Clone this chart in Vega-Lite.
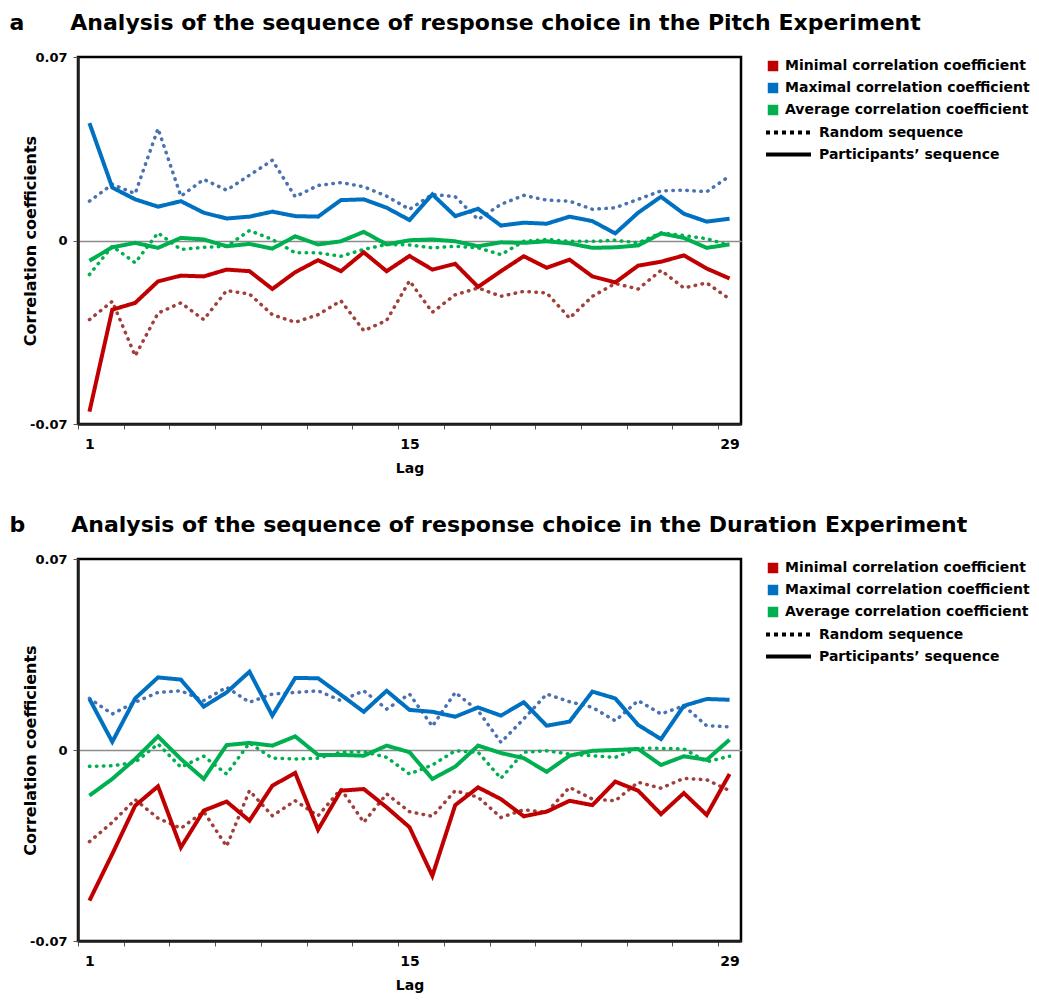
{
  "$schema": "https://vega.github.io/schema/vega-lite/v6.json",
  "background": "white",
  "padding": {"left": 8, "top": 10, "right": 4, "bottom": 4},
  "config": {
    "font": "DejaVu Sans",
    "view": {"stroke": "black", "strokeWidth": 2.5},
    "axis": {
      "domainColor": "#222",
      "domainWidth": 2.5,
      "tickColor": "#555",
      "tickWidth": 1,
      "tickSize": 5,
      "labelFont": "DejaVu Sans",
      "labelFontWeight": "bold",
      "labelFontSize": 14,
      "labelColor": "black",
      "titleFont": "DejaVu Sans",
      "titleFontWeight": "bold",
      "titleFontSize": 14,
      "titleColor": "black"
    },
    "legend": {
      "labelFont": "DejaVu Sans",
      "labelFontWeight": "bold",
      "labelFontSize": 14,
      "labelColor": "black",
      "labelLimit": 400,
      "orient": "right",
      "offset": 23,
      "rowPadding": 6,
      "padding": 0
    },
    "title": {
      "font": "DejaVu Sans",
      "fontWeight": "bold",
      "fontSize": 22,
      "color": "black",
      "anchor": "start",
      "frame": "bounds",
      "offset": 16
    }
  },
  "datasets": {
    "pitch": [
      {"lag":1,"stat":"min","seq":"part","r":-0.0653},{"lag":2,"stat":"min","seq":"part","r":-0.0264},{"lag":3,"stat":"min","seq":"part","r":-0.0238},{"lag":4,"stat":"min","seq":"part","r":-0.0156},{"lag":5,"stat":"min","seq":"part","r":-0.0134},{"lag":6,"stat":"min","seq":"part","r":-0.0137},{"lag":7,"stat":"min","seq":"part","r":-0.0111},{"lag":8,"stat":"min","seq":"part","r":-0.0117},{"lag":9,"stat":"min","seq":"part","r":-0.0185},{"lag":10,"stat":"min","seq":"part","r":-0.0121},{"lag":11,"stat":"min","seq":"part","r":-0.0075},{"lag":12,"stat":"min","seq":"part","r":-0.0117},{"lag":13,"stat":"min","seq":"part","r":-0.0045},{"lag":14,"stat":"min","seq":"part","r":-0.0117},{"lag":15,"stat":"min","seq":"part","r":-0.0059},{"lag":16,"stat":"min","seq":"part","r":-0.0111},{"lag":17,"stat":"min","seq":"part","r":-0.0089},{"lag":18,"stat":"min","seq":"part","r":-0.0177},{"lag":19,"stat":"min","seq":"part","r":-0.0117},{"lag":20,"stat":"min","seq":"part","r":-0.0060},{"lag":21,"stat":"min","seq":"part","r":-0.0104},{"lag":22,"stat":"min","seq":"part","r":-0.0073},{"lag":23,"stat":"min","seq":"part","r":-0.0137},{"lag":24,"stat":"min","seq":"part","r":-0.0160},{"lag":25,"stat":"min","seq":"part","r":-0.0096},{"lag":26,"stat":"min","seq":"part","r":-0.0081},{"lag":27,"stat":"min","seq":"part","r":-0.0057},{"lag":28,"stat":"min","seq":"part","r":-0.0107},{"lag":29,"stat":"min","seq":"part","r":-0.0145},
      {"lag":1,"stat":"max","seq":"part","r":0.0448},{"lag":2,"stat":"max","seq":"part","r":0.0202},{"lag":3,"stat":"max","seq":"part","r":0.0157},{"lag":4,"stat":"max","seq":"part","r":0.0129},{"lag":5,"stat":"max","seq":"part","r":0.0150},{"lag":6,"stat":"max","seq":"part","r":0.0106},{"lag":7,"stat":"max","seq":"part","r":0.0084},{"lag":8,"stat":"max","seq":"part","r":0.0091},{"lag":9,"stat":"max","seq":"part","r":0.0110},{"lag":10,"stat":"max","seq":"part","r":0.0093},{"lag":11,"stat":"max","seq":"part","r":0.0091},{"lag":12,"stat":"max","seq":"part","r":0.0154},{"lag":13,"stat":"max","seq":"part","r":0.0157},{"lag":14,"stat":"max","seq":"part","r":0.0125},{"lag":15,"stat":"max","seq":"part","r":0.0078},{"lag":16,"stat":"max","seq":"part","r":0.0176},{"lag":17,"stat":"max","seq":"part","r":0.0093},{"lag":18,"stat":"max","seq":"part","r":0.0121},{"lag":19,"stat":"max","seq":"part","r":0.0057},{"lag":20,"stat":"max","seq":"part","r":0.0068},{"lag":21,"stat":"max","seq":"part","r":0.0064},{"lag":22,"stat":"max","seq":"part","r":0.0091},{"lag":23,"stat":"max","seq":"part","r":0.0074},{"lag":24,"stat":"max","seq":"part","r":0.0027},{"lag":25,"stat":"max","seq":"part","r":0.0106},{"lag":26,"stat":"max","seq":"part","r":0.0167},{"lag":27,"stat":"max","seq":"part","r":0.0102},{"lag":28,"stat":"max","seq":"part","r":0.0072},{"lag":29,"stat":"max","seq":"part","r":0.0083},
      {"lag":1,"stat":"avg","seq":"part","r":-0.0077},{"lag":2,"stat":"avg","seq":"part","r":-0.0026},{"lag":3,"stat":"avg","seq":"part","r":-0.0009},{"lag":4,"stat":"avg","seq":"part","r":-0.0028},{"lag":5,"stat":"avg","seq":"part","r":0.0010},{"lag":6,"stat":"avg","seq":"part","r":0.0004},{"lag":7,"stat":"avg","seq":"part","r":-0.0022},{"lag":8,"stat":"avg","seq":"part","r":-0.0013},{"lag":9,"stat":"avg","seq":"part","r":-0.0031},{"lag":10,"stat":"avg","seq":"part","r":0.0016},{"lag":11,"stat":"avg","seq":"part","r":-0.0015},{"lag":12,"stat":"avg","seq":"part","r":-0.0003},{"lag":13,"stat":"avg","seq":"part","r":0.0033},{"lag":14,"stat":"avg","seq":"part","r":-0.0015},{"lag":15,"stat":"avg","seq":"part","r":0.0001},{"lag":16,"stat":"avg","seq":"part","r":0.0004},{"lag":17,"stat":"avg","seq":"part","r":-0.0003},{"lag":18,"stat":"avg","seq":"part","r":-0.0022},{"lag":19,"stat":"avg","seq":"part","r":-0.0007},{"lag":20,"stat":"avg","seq":"part","r":-0.0009},{"lag":21,"stat":"avg","seq":"part","r":-0.0003},{"lag":22,"stat":"avg","seq":"part","r":-0.0011},{"lag":23,"stat":"avg","seq":"part","r":-0.0028},{"lag":24,"stat":"avg","seq":"part","r":-0.0026},{"lag":25,"stat":"avg","seq":"part","r":-0.0019},{"lag":26,"stat":"avg","seq":"part","r":0.0027},{"lag":27,"stat":"avg","seq":"part","r":0.0010},{"lag":28,"stat":"avg","seq":"part","r":-0.0028},{"lag":29,"stat":"avg","seq":"part","r":-0.0015},
      {"lag":1,"stat":"min","seq":"rand","r":-0.0302},{"lag":2,"stat":"min","seq":"rand","r":-0.0232},{"lag":3,"stat":"min","seq":"rand","r":-0.0440},{"lag":4,"stat":"min","seq":"rand","r":-0.0277},{"lag":5,"stat":"min","seq":"rand","r":-0.0238},{"lag":6,"stat":"min","seq":"rand","r":-0.0302},{"lag":7,"stat":"min","seq":"rand","r":-0.0191},{"lag":8,"stat":"min","seq":"rand","r":-0.0204},{"lag":9,"stat":"min","seq":"rand","r":-0.0283},{"lag":10,"stat":"min","seq":"rand","r":-0.0312},{"lag":11,"stat":"min","seq":"rand","r":-0.0283},{"lag":12,"stat":"min","seq":"rand","r":-0.0230},{"lag":13,"stat":"min","seq":"rand","r":-0.0344},{"lag":14,"stat":"min","seq":"rand","r":-0.0305},{"lag":15,"stat":"min","seq":"rand","r":-0.0154},{"lag":16,"stat":"min","seq":"rand","r":-0.0274},{"lag":17,"stat":"min","seq":"rand","r":-0.0207},{"lag":18,"stat":"min","seq":"rand","r":-0.0181},{"lag":19,"stat":"min","seq":"rand","r":-0.0213},{"lag":20,"stat":"min","seq":"rand","r":-0.0194},{"lag":21,"stat":"min","seq":"rand","r":-0.0200},{"lag":22,"stat":"min","seq":"rand","r":-0.0296},{"lag":23,"stat":"min","seq":"rand","r":-0.0213},{"lag":24,"stat":"min","seq":"rand","r":-0.0164},{"lag":25,"stat":"min","seq":"rand","r":-0.0185},{"lag":26,"stat":"min","seq":"rand","r":-0.0114},{"lag":27,"stat":"min","seq":"rand","r":-0.0181},{"lag":28,"stat":"min","seq":"rand","r":-0.0162},{"lag":29,"stat":"min","seq":"rand","r":-0.0223},
      {"lag":1,"stat":"max","seq":"rand","r":0.0150},{"lag":2,"stat":"max","seq":"rand","r":0.0214},{"lag":3,"stat":"max","seq":"rand","r":0.0179},{"lag":4,"stat":"max","seq":"rand","r":0.0427},{"lag":5,"stat":"max","seq":"rand","r":0.0169},{"lag":6,"stat":"max","seq":"rand","r":0.0233},{"lag":7,"stat":"max","seq":"rand","r":0.0192},{"lag":8,"stat":"max","seq":"rand","r":0.0249},{"lag":9,"stat":"max","seq":"rand","r":0.0306},{"lag":10,"stat":"max","seq":"rand","r":0.0167},{"lag":11,"stat":"max","seq":"rand","r":0.0210},{"lag":12,"stat":"max","seq":"rand","r":0.0221},{"lag":13,"stat":"max","seq":"rand","r":0.0205},{"lag":14,"stat":"max","seq":"rand","r":0.0169},{"lag":15,"stat":"max","seq":"rand","r":0.0119},{"lag":16,"stat":"max","seq":"rand","r":0.0176},{"lag":17,"stat":"max","seq":"rand","r":0.0167},{"lag":18,"stat":"max","seq":"rand","r":0.0080},{"lag":19,"stat":"max","seq":"rand","r":0.0138},{"lag":20,"stat":"max","seq":"rand","r":0.0172},{"lag":21,"stat":"max","seq":"rand","r":0.0154},{"lag":22,"stat":"max","seq":"rand","r":0.0150},{"lag":23,"stat":"max","seq":"rand","r":0.0119},{"lag":24,"stat":"max","seq":"rand","r":0.0125},{"lag":25,"stat":"max","seq":"rand","r":0.0157},{"lag":26,"stat":"max","seq":"rand","r":0.0189},{"lag":27,"stat":"max","seq":"rand","r":0.0192},{"lag":28,"stat":"max","seq":"rand","r":0.0186},{"lag":29,"stat":"max","seq":"rand","r":0.0246},
      {"lag":1,"stat":"avg","seq":"rand","r":-0.0130},{"lag":2,"stat":"avg","seq":"rand","r":-0.0022},{"lag":3,"stat":"avg","seq":"rand","r":-0.0085},{"lag":4,"stat":"avg","seq":"rand","r":0.0029},{"lag":5,"stat":"avg","seq":"rand","r":-0.0034},{"lag":6,"stat":"avg","seq":"rand","r":-0.0026},{"lag":7,"stat":"avg","seq":"rand","r":-0.0022},{"lag":8,"stat":"avg","seq":"rand","r":0.0038},{"lag":9,"stat":"avg","seq":"rand","r":0.0004},{"lag":10,"stat":"avg","seq":"rand","r":-0.0047},{"lag":11,"stat":"avg","seq":"rand","r":-0.0047},{"lag":12,"stat":"avg","seq":"rand","r":-0.0060},{"lag":13,"stat":"avg","seq":"rand","r":-0.0034},{"lag":14,"stat":"avg","seq":"rand","r":-0.0015},{"lag":15,"stat":"avg","seq":"rand","r":-0.0017},{"lag":16,"stat":"avg","seq":"rand","r":-0.0028},{"lag":17,"stat":"avg","seq":"rand","r":-0.0022},{"lag":18,"stat":"avg","seq":"rand","r":-0.0028},{"lag":19,"stat":"avg","seq":"rand","r":-0.0054},{"lag":20,"stat":"avg","seq":"rand","r":-0.0003},{"lag":21,"stat":"avg","seq":"rand","r":0.0004},{"lag":22,"stat":"avg","seq":"rand","r":-0.0003},{"lag":23,"stat":"avg","seq":"rand","r":-0.0003},{"lag":24,"stat":"avg","seq":"rand","r":0.0001},{"lag":25,"stat":"avg","seq":"rand","r":-0.0009},{"lag":26,"stat":"avg","seq":"rand","r":0.0029},{"lag":27,"stat":"avg","seq":"rand","r":0.0019},{"lag":28,"stat":"avg","seq":"rand","r":0.0007},{"lag":29,"stat":"avg","seq":"rand","r":-0.0019}
    ],
    "duration": [
      {"lag":1,"stat":"min","seq":"part","r":-0.0552},{"lag":2,"stat":"min","seq":"part","r":-0.0381},{"lag":3,"stat":"min","seq":"part","r":-0.0204},{"lag":4,"stat":"min","seq":"part","r":-0.0133},{"lag":5,"stat":"min","seq":"part","r":-0.0357},{"lag":6,"stat":"min","seq":"part","r":-0.0222},{"lag":7,"stat":"min","seq":"part","r":-0.0189},{"lag":8,"stat":"min","seq":"part","r":-0.0259},{"lag":9,"stat":"min","seq":"part","r":-0.0131},{"lag":10,"stat":"min","seq":"part","r":-0.0084},{"lag":11,"stat":"min","seq":"part","r":-0.0292},{"lag":12,"stat":"min","seq":"part","r":-0.0149},{"lag":13,"stat":"min","seq":"part","r":-0.0143},{"lag":14,"stat":"min","seq":"part","r":-0.0210},{"lag":15,"stat":"min","seq":"part","r":-0.0283},{"lag":16,"stat":"min","seq":"part","r":-0.0461},{"lag":17,"stat":"min","seq":"part","r":-0.0202},{"lag":18,"stat":"min","seq":"part","r":-0.0137},{"lag":19,"stat":"min","seq":"part","r":-0.0180},{"lag":20,"stat":"min","seq":"part","r":-0.0243},{"lag":21,"stat":"min","seq":"part","r":-0.0226},{"lag":22,"stat":"min","seq":"part","r":-0.0186},{"lag":23,"stat":"min","seq":"part","r":-0.0202},{"lag":24,"stat":"min","seq":"part","r":-0.0116},{"lag":25,"stat":"min","seq":"part","r":-0.0149},{"lag":26,"stat":"min","seq":"part","r":-0.0235},{"lag":27,"stat":"min","seq":"part","r":-0.0158},{"lag":28,"stat":"min","seq":"part","r":-0.0238},{"lag":29,"stat":"min","seq":"part","r":-0.0088},
      {"lag":1,"stat":"max","seq":"part","r":0.0187},{"lag":2,"stat":"max","seq":"part","r":0.0030},{"lag":3,"stat":"max","seq":"part","r":0.0189},{"lag":4,"stat":"max","seq":"part","r":0.0266},{"lag":5,"stat":"max","seq":"part","r":0.0258},{"lag":6,"stat":"max","seq":"part","r":0.0159},{"lag":7,"stat":"max","seq":"part","r":0.0211},{"lag":8,"stat":"max","seq":"part","r":0.0287},{"lag":9,"stat":"max","seq":"part","r":0.0126},{"lag":10,"stat":"max","seq":"part","r":0.0264},{"lag":11,"stat":"max","seq":"part","r":0.0263},{"lag":12,"stat":"max","seq":"part","r":0.0202},{"lag":13,"stat":"max","seq":"part","r":0.0140},{"lag":14,"stat":"max","seq":"part","r":0.0217},{"lag":15,"stat":"max","seq":"part","r":0.0147},{"lag":16,"stat":"max","seq":"part","r":0.0140},{"lag":17,"stat":"max","seq":"part","r":0.0122},{"lag":18,"stat":"max","seq":"part","r":0.0156},{"lag":19,"stat":"max","seq":"part","r":0.0126},{"lag":20,"stat":"max","seq":"part","r":0.0175},{"lag":21,"stat":"max","seq":"part","r":0.0089},{"lag":22,"stat":"max","seq":"part","r":0.0104},{"lag":23,"stat":"max","seq":"part","r":0.0214},{"lag":24,"stat":"max","seq":"part","r":0.0189},{"lag":25,"stat":"max","seq":"part","r":0.0092},{"lag":26,"stat":"max","seq":"part","r":0.0040},{"lag":27,"stat":"max","seq":"part","r":0.0162},{"lag":28,"stat":"max","seq":"part","r":0.0187},{"lag":29,"stat":"max","seq":"part","r":0.0184},
      {"lag":1,"stat":"avg","seq":"part","r":-0.0167},{"lag":2,"stat":"avg","seq":"part","r":-0.0106},{"lag":3,"stat":"avg","seq":"part","r":-0.0033},{"lag":4,"stat":"avg","seq":"part","r":0.0050},{"lag":5,"stat":"avg","seq":"part","r":-0.0033},{"lag":6,"stat":"avg","seq":"part","r":-0.0106},{"lag":7,"stat":"avg","seq":"part","r":0.0018},{"lag":8,"stat":"avg","seq":"part","r":0.0026},{"lag":9,"stat":"avg","seq":"part","r":0.0016},{"lag":10,"stat":"avg","seq":"part","r":0.0050},{"lag":11,"stat":"avg","seq":"part","r":-0.0018},{"lag":12,"stat":"avg","seq":"part","r":-0.0018},{"lag":13,"stat":"avg","seq":"part","r":-0.0021},{"lag":14,"stat":"avg","seq":"part","r":0.0016},{"lag":15,"stat":"avg","seq":"part","r":-0.0008},{"lag":16,"stat":"avg","seq":"part","r":-0.0106},{"lag":17,"stat":"avg","seq":"part","r":-0.0061},{"lag":18,"stat":"avg","seq":"part","r":0.0016},{"lag":19,"stat":"avg","seq":"part","r":-0.0011},{"lag":20,"stat":"avg","seq":"part","r":-0.0030},{"lag":21,"stat":"avg","seq":"part","r":-0.0080},{"lag":22,"stat":"avg","seq":"part","r":-0.0021},{"lag":23,"stat":"avg","seq":"part","r":-0.0003},{"lag":24,"stat":"avg","seq":"part","r":0.0000},{"lag":25,"stat":"avg","seq":"part","r":0.0004},{"lag":26,"stat":"avg","seq":"part","r":-0.0055},{"lag":27,"stat":"avg","seq":"part","r":-0.0023},{"lag":28,"stat":"avg","seq":"part","r":-0.0036},{"lag":29,"stat":"avg","seq":"part","r":0.0038},
      {"lag":1,"stat":"min","seq":"rand","r":-0.0336},{"lag":2,"stat":"min","seq":"rand","r":-0.0265},{"lag":3,"stat":"min","seq":"rand","r":-0.0182},{"lag":4,"stat":"min","seq":"rand","r":-0.0250},{"lag":5,"stat":"min","seq":"rand","r":-0.0287},{"lag":6,"stat":"min","seq":"rand","r":-0.0226},{"lag":7,"stat":"min","seq":"rand","r":-0.0353},{"lag":8,"stat":"min","seq":"rand","r":-0.0149},{"lag":9,"stat":"min","seq":"rand","r":-0.0241},{"lag":10,"stat":"min","seq":"rand","r":-0.0186},{"lag":11,"stat":"min","seq":"rand","r":-0.0241},{"lag":12,"stat":"min","seq":"rand","r":-0.0143},{"lag":13,"stat":"min","seq":"rand","r":-0.0265},{"lag":14,"stat":"min","seq":"rand","r":-0.0161},{"lag":15,"stat":"min","seq":"rand","r":-0.0226},{"lag":16,"stat":"min","seq":"rand","r":-0.0243},{"lag":17,"stat":"min","seq":"rand","r":-0.0149},{"lag":18,"stat":"min","seq":"rand","r":-0.0173},{"lag":19,"stat":"min","seq":"rand","r":-0.0247},{"lag":20,"stat":"min","seq":"rand","r":-0.0219},{"lag":21,"stat":"min","seq":"rand","r":-0.0228},{"lag":22,"stat":"min","seq":"rand","r":-0.0137},{"lag":23,"stat":"min","seq":"rand","r":-0.0180},{"lag":24,"stat":"min","seq":"rand","r":-0.0186},{"lag":25,"stat":"min","seq":"rand","r":-0.0118},{"lag":26,"stat":"min","seq":"rand","r":-0.0140},{"lag":27,"stat":"min","seq":"rand","r":-0.0104},{"lag":28,"stat":"min","seq":"rand","r":-0.0109},{"lag":29,"stat":"min","seq":"rand","r":-0.0149},
      {"lag":1,"stat":"max","seq":"rand","r":0.0189},{"lag":2,"stat":"max","seq":"rand","r":0.0132},{"lag":3,"stat":"max","seq":"rand","r":0.0175},{"lag":4,"stat":"max","seq":"rand","r":0.0211},{"lag":5,"stat":"max","seq":"rand","r":0.0217},{"lag":6,"stat":"max","seq":"rand","r":0.0181},{"lag":7,"stat":"max","seq":"rand","r":0.0230},{"lag":8,"stat":"max","seq":"rand","r":0.0175},{"lag":9,"stat":"max","seq":"rand","r":0.0205},{"lag":10,"stat":"max","seq":"rand","r":0.0211},{"lag":11,"stat":"max","seq":"rand","r":0.0217},{"lag":12,"stat":"max","seq":"rand","r":0.0181},{"lag":13,"stat":"max","seq":"rand","r":0.0217},{"lag":14,"stat":"max","seq":"rand","r":0.0150},{"lag":15,"stat":"max","seq":"rand","r":0.0205},{"lag":16,"stat":"max","seq":"rand","r":0.0087},{"lag":17,"stat":"max","seq":"rand","r":0.0211},{"lag":18,"stat":"max","seq":"rand","r":0.0144},{"lag":19,"stat":"max","seq":"rand","r":0.0028},{"lag":20,"stat":"max","seq":"rand","r":0.0114},{"lag":21,"stat":"max","seq":"rand","r":0.0205},{"lag":22,"stat":"max","seq":"rand","r":0.0177},{"lag":23,"stat":"max","seq":"rand","r":0.0156},{"lag":24,"stat":"max","seq":"rand","r":0.0107},{"lag":25,"stat":"max","seq":"rand","r":0.0181},{"lag":26,"stat":"max","seq":"rand","r":0.0132},{"lag":27,"stat":"max","seq":"rand","r":0.0162},{"lag":28,"stat":"max","seq":"rand","r":0.0089},{"lag":29,"stat":"max","seq":"rand","r":0.0085},
      {"lag":1,"stat":"avg","seq":"rand","r":-0.0060},{"lag":2,"stat":"avg","seq":"rand","r":-0.0058},{"lag":3,"stat":"avg","seq":"rand","r":-0.0045},{"lag":4,"stat":"avg","seq":"rand","r":0.0022},{"lag":5,"stat":"avg","seq":"rand","r":-0.0063},{"lag":6,"stat":"avg","seq":"rand","r":-0.0023},{"lag":7,"stat":"avg","seq":"rand","r":-0.0088},{"lag":8,"stat":"avg","seq":"rand","r":0.0026},{"lag":9,"stat":"avg","seq":"rand","r":-0.0030},{"lag":10,"stat":"avg","seq":"rand","r":-0.0033},{"lag":11,"stat":"avg","seq":"rand","r":-0.0030},{"lag":12,"stat":"avg","seq":"rand","r":-0.0008},{"lag":13,"stat":"avg","seq":"rand","r":-0.0006},{"lag":14,"stat":"avg","seq":"rand","r":-0.0027},{"lag":15,"stat":"avg","seq":"rand","r":-0.0088},{"lag":16,"stat":"avg","seq":"rand","r":-0.0055},{"lag":17,"stat":"avg","seq":"rand","r":-0.0003},{"lag":18,"stat":"avg","seq":"rand","r":-0.0008},{"lag":19,"stat":"avg","seq":"rand","r":-0.0104},{"lag":20,"stat":"avg","seq":"rand","r":-0.0008},{"lag":21,"stat":"avg","seq":"rand","r":-0.0003},{"lag":22,"stat":"avg","seq":"rand","r":-0.0015},{"lag":23,"stat":"avg","seq":"rand","r":-0.0021},{"lag":24,"stat":"avg","seq":"rand","r":-0.0027},{"lag":25,"stat":"avg","seq":"rand","r":0.0006},{"lag":26,"stat":"avg","seq":"rand","r":0.0006},{"lag":27,"stat":"avg","seq":"rand","r":0.0004},{"lag":28,"stat":"avg","seq":"rand","r":-0.0043},{"lag":29,"stat":"avg","seq":"rand","r":-0.0023}
    ]
  },
  "spacing": 35,
  "resolve": {"scale": {"color": "independent", "stroke": "independent", "strokeDash": "independent"}},
  "vconcat": [
    {
      "title": {"text": "a\u00a0\u00a0\u00a0\u00a0\u00a0\u00a0Analysis of the sequence of response choice in the Pitch Experiment", "dx": -13},
      "width": 663,
      "height": 367,
      "data": {"name": "pitch"},
      "layer": [
        {
          "transform": [{"filter": "datum.seq == 'rand'"}],
          "mark": {"type": "line", "strokeWidth": 3.5, "strokeCap": "round", "strokeDash": [0.5, 6.5]},
          "encoding": {
            "x": {"field": "lag", "type": "quantitative", "scale": {"domain": [0.5, 29.5], "nice": false, "zero": false},
              "axis": {"title": "Lag", "grid": false, "values": [0.5,1.5,2.5,3.5,4.5,5.5,6.5,7.5,8.5,9.5,10.5,11.5,12.5,13.5,14.5,15.5,16.5,17.5,18.5,19.5,20.5,21.5,22.5,23.5,24.5,25.5,26.5,27.5,28.5,29.5],
                "labelExpr": "datum.value == 0.5 ? '1' : datum.value == 14.5 ? '15' : datum.value == 28.5 ? '29' : ''",
                "labelOffset": 11.4, "labelFlush": false, "labelOverlap": false, "labelPadding": 8, "titlePadding": 10}},
            "y": {"field": "r", "type": "quantitative", "scale": {"domain": [-0.07, 0.07], "nice": false, "zero": false},
              "axis": {"title": "Correlation coefficients", "titleFontSize": 16, "values": [-0.07, 0, 0.07], "labelFontSize": 13,
                "labelExpr": "datum.value == 0 ? '0' : datum.value < 0 ? '-0.07' : '0.07'",
                "grid": true, "gridColor": {"condition": {"test": "datum.value === 0", "value": "#8c8c8c"}, "value": "transparent"}, "gridWidth": 1.5,
                "labelPadding": 6, "titlePadding": -9}},
            "stroke": {"field": "stat", "type": "nominal", "scale": {"domain": ["avg", "min", "max"], "range": ["#00b050", "#a0403c", "#4a72b2"]}, "legend": null},
            "order": {"field": "lag"}
          }
        },
        {
          "transform": [{"filter": "datum.seq == 'part'"}],
          "mark": {"type": "line", "strokeWidth": 4, "strokeJoin": "miter"},
          "encoding": {
            "x": {"field": "lag", "type": "quantitative"},
            "y": {"field": "r", "type": "quantitative"},
            "color": {"field": "stat", "type": "nominal", "scale": {"domain": ["min", "max", "avg"], "range": ["#c00000", "#0070c0", "#00b050"]},
              "legend": {"title": null, "symbolType": "square", "symbolSize": 20, "symbolStrokeWidth": 6, "rowPadding": -8, "padding": 2, "offset": 23, "labelOffset": 5,
                "labelExpr": "datum.value == 'min' ? 'Minimal correlation coefficient' : datum.value == 'max' ? 'Maximal correlation coefficient' : 'Average correlation coefficient'"}},
            "strokeDash": {"field": "seq", "type": "nominal", "scale": {"domain": ["rand", "part"], "range": [[4, 4], [1, 0]]},
              "legend": {"title": null, "symbolType": "M0.4,0H4.4", "symbolSize": 506, "symbolStrokeWidth": 4, "symbolStrokeColor": "black", "labelOffset": 44, "rowPadding": 0, "padding": -16, "offset": 23,
                "labelExpr": "datum.value == 'rand' ? 'Random sequence' : 'Participants\u2019 sequence'"}},
            "order": {"field": "lag"}
          }
        }
      ]
    },
    {
      "title": {"text": "b\u00a0\u00a0\u00a0\u00a0\u00a0\u00a0Analysis of the sequence of response choice in the Duration Experiment", "dx": -13},
      "width": 663,
      "height": 382,
      "data": {"name": "duration"},
      "layer": [
        {
          "transform": [{"filter": "datum.seq == 'rand'"}],
          "mark": {"type": "line", "strokeWidth": 3.5, "strokeCap": "round", "strokeDash": [0.5, 6.5]},
          "encoding": {
            "x": {"field": "lag", "type": "quantitative", "scale": {"domain": [0.5, 29.5], "nice": false, "zero": false},
              "axis": {"title": "Lag", "grid": false, "values": [0.5,1.5,2.5,3.5,4.5,5.5,6.5,7.5,8.5,9.5,10.5,11.5,12.5,13.5,14.5,15.5,16.5,17.5,18.5,19.5,20.5,21.5,22.5,23.5,24.5,25.5,26.5,27.5,28.5,29.5],
                "labelExpr": "datum.value == 0.5 ? '1' : datum.value == 14.5 ? '15' : datum.value == 28.5 ? '29' : ''",
                "labelOffset": 11.4, "labelFlush": false, "labelOverlap": false, "labelPadding": 8, "titlePadding": 10}},
            "y": {"field": "r", "type": "quantitative", "scale": {"domain": [-0.07, 0.07], "nice": false, "zero": false},
              "axis": {"title": "Correlation coefficients", "titleFontSize": 16, "values": [-0.07, 0, 0.07], "labelFontSize": 13,
                "labelExpr": "datum.value == 0 ? '0' : datum.value < 0 ? '-0.07' : '0.07'",
                "grid": true, "gridColor": {"condition": {"test": "datum.value === 0", "value": "#8c8c8c"}, "value": "transparent"}, "gridWidth": 1.5,
                "labelPadding": 6, "titlePadding": -9}},
            "stroke": {"field": "stat", "type": "nominal", "scale": {"domain": ["avg", "min", "max"], "range": ["#00b050", "#a0403c", "#4a72b2"]}, "legend": null},
            "order": {"field": "lag"}
          }
        },
        {
          "transform": [{"filter": "datum.seq == 'part'"}],
          "mark": {"type": "line", "strokeWidth": 4, "strokeJoin": "miter"},
          "encoding": {
            "x": {"field": "lag", "type": "quantitative"},
            "y": {"field": "r", "type": "quantitative"},
            "color": {"field": "stat", "type": "nominal", "scale": {"domain": ["min", "max", "avg"], "range": ["#c00000", "#0070c0", "#00b050"]},
              "legend": {"title": null, "symbolType": "square", "symbolSize": 20, "symbolStrokeWidth": 6, "rowPadding": -8, "padding": 2, "offset": 23, "labelOffset": 5,
                "labelExpr": "datum.value == 'min' ? 'Minimal correlation coefficient' : datum.value == 'max' ? 'Maximal correlation coefficient' : 'Average correlation coefficient'"}},
            "strokeDash": {"field": "seq", "type": "nominal", "scale": {"domain": ["rand", "part"], "range": [[4, 4], [1, 0]]},
              "legend": {"title": null, "symbolType": "M0.4,0H4.4", "symbolSize": 506, "symbolStrokeWidth": 4, "symbolStrokeColor": "black", "labelOffset": 44, "rowPadding": 0, "padding": -16, "offset": 23,
                "labelExpr": "datum.value == 'rand' ? 'Random sequence' : 'Participants\u2019 sequence'"}},
            "order": {"field": "lag"}
          }
        }
      ]
    }
  ]
}
